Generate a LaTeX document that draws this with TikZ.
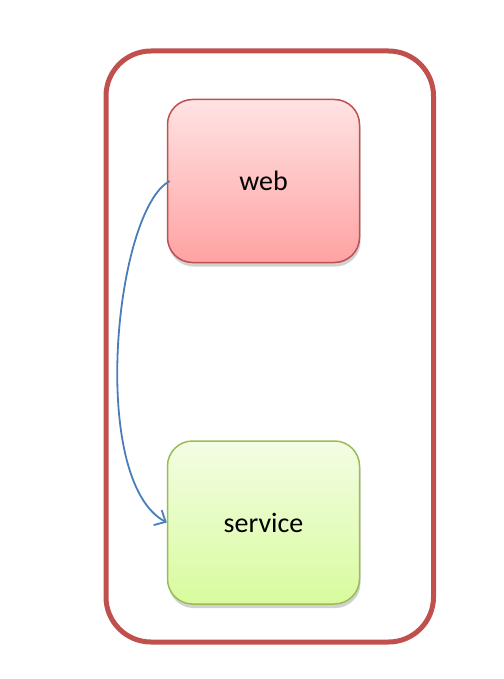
\documentclass[tikz,border=0pt]{standalone}
\usepackage{fontspec}
\setmainfont{Carlito}
\usetikzlibrary{shadows,arrows.meta}
\definecolor{redline}{HTML}{C0504D}
\definecolor{webtop}{HTML}{FFE3E3}
\definecolor{webbot}{HTML}{FFA2A2}
\definecolor{greenline}{HTML}{9BBB59}
\definecolor{svctop}{HTML}{F3FDE3}
\definecolor{svcbot}{HTML}{D8FB9E}
\definecolor{arrowblue}{HTML}{4A7EBB}
\tikzset{
  box/.style={rounded corners=25bp, minimum width=192bp, minimum height=163bp,
    line width=1.5bp, font=\fontsize{28bp}{32bp}\selectfont,
    drop shadow={shadow xshift=1bp, shadow yshift=-4bp, opacity=0.18, fill=black}},
  webbox/.style={box, draw=redline, top color=webtop, bottom color=webbot},
  svcbox/.style={box, draw=greenline, top color=svctop, bottom color=svcbot},
  outerbox/.style={draw=redline, line width=5bp, rounded corners=45bp},
  link/.style={draw=arrowblue, line width=1.8bp, -{Straight Barb[length=9bp,width=17bp]}}
}
\begin{document}
\begin{tikzpicture}[x=1bp,y=-1bp]
\useasboundingbox (0,0) rectangle (504,679);
\path[outerbox] (106,51) rectangle (433.5,642);
\node[webbox] (web) at (263.5,181) {web};
\node[svcbox] (service) at (263.5,522.5) {service};
\coordinate (s) at ([xshift=3bp]web.west);
\draw[link] (s) .. controls (115,210) and (88,480) .. (service.west);
\end{tikzpicture}
\end{document}
